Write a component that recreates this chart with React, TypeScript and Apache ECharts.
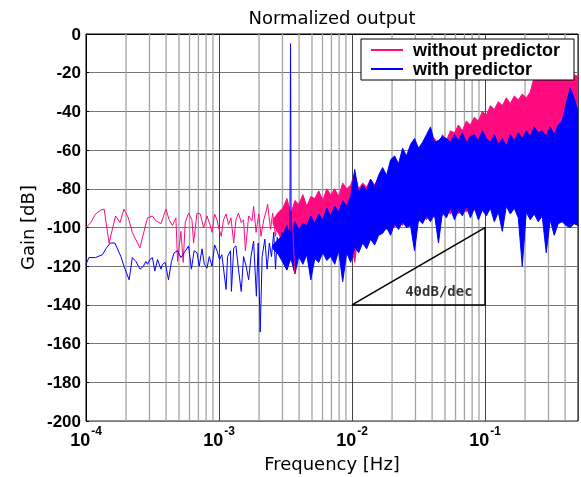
import { useEffect, useRef } from 'react';
import * as echarts from 'echarts';

const TITLE = 'Normalized output';
const X_NAME = 'Frequency [Hz]';
const Y_NAME = 'Gain [dB]';
const NAME_A = 'without predictor';
const NAME_B = 'with predictor';
const SLOPE_LABEL = '40dB/dec';
const COLOR_A = '#ff0a7f';
const COLOR_B = '#0000ff';

// sparse low-frequency part, "without predictor"
const PINK_F = [1.0e-4, 1.085e-4, 1.18e-4, 1.29e-4, 1.37e-4, 1.49e-4, 1.67e-4, 1.80e-4, 1.93e-4, 2.08e-4, 2.23e-4, 2.54e-4, 2.90e-4, 3.16e-4, 3.35e-4, 3.66e-4, 3.99e-4, 4.22e-4, 4.47e-4, 4.74e-4, 4.88e-4, 5.17e-4, 5.38e-4, 5.57e-4, 5.90e-4, 6.26e-4, 6.44e-4, 6.83e-4, 7.23e-4, 7.66e-4, 8.12e-4, 8.60e-4, 8.86e-4, 9.27e-4, 9.66e-4, 9.93e-4, 1.04e-3, 1.08e-3, 1.13e-3, 1.18e-3, 1.23e-3, 1.29e-3, 1.34e-3, 1.40e-3, 1.47e-3, 1.53e-3, 1.58e-3, 1.67e-3, 1.77e-3, 1.82e-3, 1.90e-3, 1.99e-3, 2.07e-3, 2.17e-3, 2.26e-3, 2.32e-3, 2.44e-3, 2.53e-3, 2.66e-3, 2.76e-3, 2.90e-3, 3.02e-3, 3.16e-3, 3.35e-3, 3.55e-3, 3.71e-3];
const PINK_DB = [-100, -97.5, -93, -91, -90.5, -108, -94, -97.5, -90.5, -95, -102.5, -110.5, -95, -94, -96.5, -98, -90.5, -96, -99, -95, -117.5, -102, -118, -97.5, -92.5, -96, -108, -92.5, -93, -100, -94, -99, -102.5, -93, -96, -100, -104.5, -96, -93, -98.5, -95, -108, -96, -92.5, -97.5, -96, -112, -94, -96.5, -89, -102.5, -93, -104.5, -96, -91.5, -88, -101, -92.5, -104.5, -94, -99, -90.5, -88, -101, -92.5, -124];

// sparse low-frequency part, "with predictor"
const BLUE_F = [1.0e-4, 1.053e-4, 1.18e-4, 1.33e-4, 1.41e-4, 1.52e-4, 1.65e-4, 1.83e-4, 1.93e-4, 2.11e-4, 2.23e-4, 2.37e-4, 2.55e-4, 2.70e-4, 2.82e-4, 2.90e-4, 3.02e-4, 3.16e-4, 3.29e-4, 3.45e-4, 3.66e-4, 3.76e-4, 3.94e-4, 4.17e-4, 4.39e-4, 4.60e-4, 4.88e-4, 5.17e-4, 5.48e-4, 5.90e-4, 6.20e-4, 6.50e-4, 6.83e-4, 7.10e-4, 7.45e-4, 7.75e-4, 8.12e-4, 8.45e-4, 8.86e-4, 9.27e-4, 9.66e-4, 1.01e-3, 1.05e-3, 1.13e-3, 1.16e-3, 1.22e-3, 1.24e-3, 1.29e-3, 1.34e-3, 1.40e-3, 1.47e-3, 1.53e-3, 1.60e-3, 1.67e-3, 1.74e-3, 1.82e-3, 1.91e-3, 1.97e-3, 2.04e-3, 2.11e-3, 2.21e-3, 2.30e-3, 2.39e-3, 2.48e-3, 2.58e-3, 2.66e-3, 2.74e-3, 2.85e-3, 2.98e-3, 3.11e-3, 3.22e-3, 3.35e-3, 3.41e-3, 3.45e-3, 3.49e-3, 3.60e-3];
const BLUE_DB = [-119, -115.5, -115.5, -114, -111, -108, -108, -115, -120, -127, -115.5, -117.5, -121.5, -120, -117.5, -119, -116.5, -115.5, -122.5, -116.5, -121.5, -119, -118, -127, -117.5, -113, -112, -115.5, -113, -109.5, -121.5, -112, -113, -120, -111, -119, -121, -115, -120, -109, -112, -116.5, -114, -132, -115, -112, -133, -110.5, -109.5, -121.5, -133, -115, -120, -127, -115, -107, -135.5, -108, -154, -115, -106, -121.5, -108, -115, -102.5, -121.5, -105, -111, -102.5, -108, -101, -105, -110, -5, -108, -118];

// dense high-frequency part: envelope of the noise band
const BAND_F = [0.00255, 0.00280, 0.00302, 0.00324, 0.00347, 0.00372, 0.00398, 0.00427, 0.00457, 0.00490, 0.00525, 0.00562, 0.00603, 0.00646, 0.00692, 0.00741, 0.00794, 0.00851, 0.00912, 0.00977, 0.01047, 0.01122, 0.01202, 0.01288, 0.01380, 0.01479, 0.01585, 0.01698, 0.01820, 0.01950, 0.02089, 0.02239, 0.02399, 0.02570, 0.02754, 0.02951, 0.03162, 0.03388, 0.03631, 0.03890, 0.04169, 0.04467, 0.04786, 0.05129, 0.05495, 0.05888, 0.06310, 0.06761, 0.07244, 0.07762, 0.08318, 0.08913, 0.09550, 0.10233, 0.10965, 0.11749, 0.12589, 0.13490, 0.14454, 0.15488, 0.16596, 0.17783, 0.19055, 0.20417, 0.21878, 0.23442, 0.25119, 0.26915, 0.28840, 0.30903, 0.33113, 0.35481, 0.38019, 0.40738, 0.43652, 0.46774, 0.5];
const PINK_UP = [-96, -92, -90, -85, -93, -86, -88, -83, -89, -84, -85, -81, -86, -80, -83, -80, -84, -77, -80, -78, -72, -80, -77, -79, -75, -78, -74, -73, -74, -69, -67, -70, -63, -66, -60, -58, -61, -58, -55, -54, -54, -57, -52, -55, -50, -51, -47, -50, -45, -47, -43, -45, -40, -42, -37, -39, -35, -37, -33, -36, -32, -34, -31, -33, -30, -22, -20, -24, -19, -23, -20, -22, -21, -19, -23, -21, -22];
const PINK_LO = [-98, -103, -108, -112, -106, -118, -108, -114, -107, -116, -109, -113, -106, -111, -105, -110, -104, -108, -103, -107, -118, -102, -106, -101, -104, -99, -102, -98, -101, -97, -100, -96, -99, -95, -98, -94, -97, -93, -96, -92, -95, -92, -94, -91, -93, -90, -93, -90, -92, -89, -91, -88, -90, -87, -89, -86, -88, -86, -87, -85, -87, -85, -86, -85, -86, -85, -86, -85, -86, -85, -86, -85, -86, -85, -86, -85, -86];
const BLUE_UP = [-109, -106, -104, -99, -103, -97, -101, -98, -99, -94, -98, -93, -96, -90, -94, -89, -92, -86, -89, -84, -70, -82, -78, -81, -75, -79, -73, -69, -73, -65, -63, -67, -59, -63, -57, -54, -59, -56, -52, -48, -56, -55, -53, -54, -56, -52, -55, -51, -56, -53, -52, -55, -50, -54, -56, -52, -57, -54, -58, -52, -55, -51, -54, -50, -53, -48, -51, -50, -53, -48, -52, -47, -45, -36, -28, -33, -40];
const BLUE_LO = [-111, -114, -118, -122, -116, -124, -115, -119, -114, -127, -116, -118, -113, -117, -115, -119, -112, -128, -113, -118, -110, -113, -108, -111, -106, -109, -104, -103, -100, -104, -98, -101, -97, -100, -99, -112, -96, -98, -94, -97, -93, -108, -92, -95, -90, -96, -91, -94, -89, -95, -90, -96, -91, -94, -90, -97, -92, -102, -89, -93, -90, -95, -120, -92, -96, -93, -97, -94, -113, -96, -104, -98, -97, -99, -100, -98, -99];

// 40 dB/dec reference triangle
const TRI_F = [0.01, 0.1, 0.1, 0.01];
const TRI_DB = [-140, -100, -140, -140];
const SLOPE_LABEL_POS = [0.045, -133];

// minor vertical grid lines
const MINOR_F = [2e-4, 3e-4, 4e-4, 5e-4, 6e-4, 7e-4, 8e-4, 9e-4, 2e-3, 3e-3, 4e-3, 5e-3, 6e-3, 7e-3, 8e-3, 9e-3, 2e-2, 3e-2, 4e-2, 5e-2, 6e-2, 7e-2, 8e-2, 9e-2, 2e-1, 3e-1, 4e-1];

const X_MIN = 1e-4;
const X_MAX = 0.5;
const Y_MIN = -200;
const Y_MAX = 0;
const Y_STEP = 20;

const zip = (a: number[], b: number[]) => a.map((v, i) => [v, b[i]]);

const bandSeries = (name: string, color: string, up: number[], lo: number[]) => ({
  type: 'custom',
  name,
  coordinateSystem: 'cartesian2d',
  silent: true,
  clip: true,
  data: [[BAND_F[0], up[0]]],
  encode: { x: 0, y: 1 },
  itemStyle: { color },
  renderItem: (_p: any, api: any) => {
    const pts: number[][] = [];
    for (let i = 0; i < BAND_F.length; i++) pts.push(api.coord([BAND_F[i], up[i]]));
    for (let i = BAND_F.length - 1; i >= 0; i--) pts.push(api.coord([BAND_F[i], lo[i]]));
    return {
      type: 'polygon',
      shape: { points: pts },
      style: { fill: color, stroke: color, lineWidth: 1 },
    };
  },
});

export default function App() {
  const ref = useRef<HTMLDivElement>(null);
  useEffect(() => {
    const chart = echarts.init(ref.current!, null, { renderer: 'svg' });
    const option: any = {
      animation: false,
      title: {
        text: TITLE,
        left: 327,
        textAlign: 'center',
        top: 3,
        textStyle: { fontFamily: 'DejaVu Sans', fontSize: 18, fontWeight: 'normal', color: '#000' },
      },
      legend: {
        data: [
          { name: NAME_A, icon: 'rect', itemStyle: { color: COLOR_A } },
          { name: NAME_B, icon: 'rect', itemStyle: { color: COLOR_B } },
        ],
        orient: 'vertical',
        left: 361,
        top: 39,
        itemWidth: 32,
        itemHeight: 2,
        itemGap: 1,
        padding: [2, 14, 2, 10],
        backgroundColor: '#fff',
        borderColor: '#000',
        borderWidth: 1,
        textStyle: { fontFamily: 'Liberation Sans', fontWeight: 'bold', fontSize: 18, color: '#000', padding: [0, 0, 0, 5] },
      },
      grid: { left: 86, right: 3, top: 34, bottom: 55, show: true, borderColor: '#000', borderWidth: 1, backgroundColor: 'transparent' },
      xAxis: {
        type: 'log',
        logBase: 10,
        min: X_MIN,
        max: X_MAX,
        name: X_NAME,
        nameLocation: 'middle',
        nameGap: 30,
        nameTextStyle: { fontFamily: 'DejaVu Sans', fontSize: 18, color: '#000' },
        axisLine: { show: true, lineStyle: { color: '#000', width: 1 } },
        axisTick: { show: false },
        splitLine: { show: true, lineStyle: { color: '#444', width: 1 } },
        axisLabel: {
          margin: 4,
          showMaxLabel: false,
          formatter: (v: number) => {
            const e = Math.log10(v);
            const r = Math.round(e);
            if (Math.abs(e - r) > 1e-6) return '';
            return `{b|10}{s|${r}}`;
          },
          rich: {
            b: { fontFamily: 'Liberation Sans', fontWeight: 'bold', fontSize: 18, color: '#000', verticalAlign: 'bottom', lineHeight: 24 },
            s: { fontFamily: 'Liberation Sans', fontWeight: 'bold', fontSize: 12, color: '#000', verticalAlign: 'top', lineHeight: 24, padding: [0, 0, 0, 1] },
          },
        },
      },
      yAxis: [
        {
          type: 'value',
          min: Y_MIN,
          max: Y_MAX,
          interval: Y_STEP,
          name: Y_NAME,
          nameLocation: 'middle',
          nameGap: 50,
          nameTextStyle: { fontFamily: 'DejaVu Sans', fontSize: 18, color: '#000' },
          axisLine: { show: true, lineStyle: { color: '#000', width: 1 } },
          axisTick: { show: true, inside: true, length: 3, lineStyle: { color: '#000' } },
          splitLine: { show: true, lineStyle: { color: '#777', width: 1 } },
          axisLabel: { fontFamily: 'Liberation Sans', fontWeight: 'bold', fontSize: 17, color: '#000', margin: 5 },
        },
      ],
      series: [
        {
          type: 'custom',
          name: 'minor-grid',
          coordinateSystem: 'cartesian2d',
          silent: true,
          z: 1,
          data: MINOR_F.map((f) => [f, Y_MIN]),
          encode: { x: 0, y: 1 },
          renderItem: (_p: any, api: any) => {
            const f = api.value(0);
            const a = api.coord([f, Y_MIN]);
            const b = api.coord([f, Y_MAX]);
            return {
              type: 'line',
              shape: { x1: a[0], y1: a[1], x2: b[0], y2: b[1] },
              style: { stroke: '#a3a3a3', lineWidth: 1.3 },
            };
          },
        },
        {
          type: 'line',
          name: NAME_A,
          data: zip(PINK_F, PINK_DB),
          showSymbol: false,
          symbol: 'none',
          lineStyle: { color: COLOR_A, width: 1 },
          itemStyle: { color: COLOR_A },
          z: 3,
        },
        { ...bandSeries(NAME_A, COLOR_A, PINK_UP, PINK_LO), z: 3 },
        { ...bandSeries(NAME_B, COLOR_B, BLUE_UP, BLUE_LO), z: 3 },
        {
          type: 'line',
          name: NAME_B,
          data: zip(BLUE_F, BLUE_DB),
          showSymbol: false,
          symbol: 'none',
          lineStyle: { color: COLOR_B, width: 1 },
          itemStyle: { color: COLOR_B },
          z: 3,
        },
        {
          type: 'line',
          name: 'slope',
          data: zip(TRI_F, TRI_DB),
          showSymbol: false,
          symbol: 'none',
          silent: true,
          lineStyle: { color: '#000', width: 1.5 },
          z: 4,
        },
        {
          type: 'scatter',
          name: 'slope-label',
          data: [SLOPE_LABEL_POS],
          symbolSize: 1,
          itemStyle: { color: 'transparent' },
          silent: true,
          z: 4,
          label: {
            show: true,
            position: 'inside',
            formatter: SLOPE_LABEL,
            fontFamily: 'DejaVu Sans Mono',
            fontWeight: 'bold',
            fontSize: 14,
            color: '#000',
          },
        },
      ],
    };
    chart.setOption(option);
    return () => chart.dispose();
  }, []);
  return <div ref={ref} style={{ position: 'fixed', left: 0, top: 0, width: 581, height: 477 }} />;
}
